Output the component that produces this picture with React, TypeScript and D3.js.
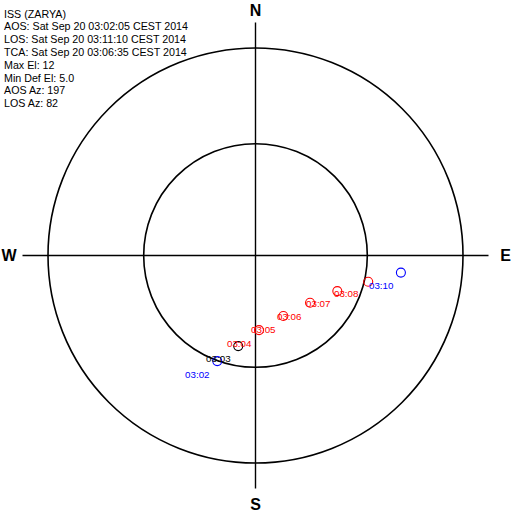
import React from "react";
import * as d3 from "d3";

const headerLines = [
  "ISS (ZARYA)",
  "AOS: Sat Sep 20 03:02:05 CEST 2014",
  "LOS: Sat Sep 20 03:11:10 CEST 2014",
  "TCA: Sat Sep 20 03:06:35 CEST 2014",
  "Max El: 12",
  "Min Def El: 5.0",
  "AOS Az: 197",
  "LOS Az: 82",
];

const ringElevations = [0, 41.5];

// track markers: azimuth (deg), elevation (deg, plot scale), colour
const markerAz = [199.9, 190.8, 177.3, 155.3, 130.9, 113.5, 103.1, 96.7];
const markerEl = [41.3, 50.0, 57.6, 61.1, 58.7, 51.3, 39.8, 26.5];
const markerColor = ["blue", "black", "red", "red", "red", "red", "red", "blue"];

// time labels
const labelText = ["03:02", "03:03", "03:04", "03:05", "03:06", "03:07", "03:08", "03:10"];
const labelAz = [209.9, 204.9, 197.3, 183.3, 161.6, 135.6, 117.9, 106.4];
const labelEl = [28.7, 39.1, 48.4, 56.3, 60.5, 58.7, 51.5, 38.7];
const labelColor = ["blue", "black", "red", "red", "red", "red", "red", "blue"];

const cardinals = [
  { t: "N", az: 0 },
  { t: "E", az: 90 },
  { t: "S", az: 180 },
  { t: "W", az: 270 },
];

const W = 512;
const H = 512;
const cx = 255.5;
const cy = 255.5;
const R = 207.5;

export default function App() {
  const r = d3.scaleLinear().domain([90, 0]).range([0, R]);
  const proj = (az: number, el: number): [number, number] => {
    const a = (az * Math.PI) / 180;
    const rr = r(el);
    return [cx + rr * Math.sin(a), cy - rr * Math.cos(a)];
  };
  const crossLen = R + 25.5;
  const font = "'Liberation Sans', Arial, Helvetica, sans-serif";
  const cardPos: Record<string, [number, number, string]> = {
    N: [cx, 16, "middle"],
    S: [cx, 510, "middle"],
    W: [1.5, 261, "start"],
    E: [511, 261, "end"],
  };
  return (
    <svg
      width={W}
      height={H}
      style={{ position: "absolute", left: 0, top: 0, background: "#fff" }}
      fontFamily={font}
    >
      <rect width={W} height={H} fill="#fff" />
      {ringElevations.map((e, i) => (
        <circle key={i} cx={cx} cy={cy} r={r(e)} fill="none" stroke="#000" strokeWidth={1.6} />
      ))}
      <line x1={cx - crossLen} x2={cx + crossLen} y1={cy} y2={cy} stroke="#000" strokeWidth={1.4} />
      <line x1={cx} x2={cx} y1={cy - crossLen} y2={cy + crossLen} stroke="#000" strokeWidth={1.4} />
      {cardinals.map((c) => {
        const p = cardPos[c.t];
        return (
          <text key={c.t} x={p[0]} y={p[1]} textAnchor={p[2] as any} fontSize={16} fontWeight="bold" fill="#000">
            {c.t}
          </text>
        );
      })}
      {headerLines.map((s, i) => (
        <text key={i} x={4} y={17.5 + i * 12.8} fontSize={10.7} fill="#000">
          {s}
        </text>
      ))}
      {markerAz.map((az, i) => {
        const [x, y] = proj(az, markerEl[i]);
        return <circle key={i} cx={x} cy={y} r={4.5} fill="none" stroke={markerColor[i]} strokeWidth={1.1} />;
      })}
      {labelText.map((t, i) => {
        const [x, y] = proj(labelAz[i], labelEl[i]);
        return (
          <text key={i} x={x} y={y} fontSize={9.8} fill={labelColor[i]}>
            {t}
          </text>
        );
      })}
    </svg>
  );
}
